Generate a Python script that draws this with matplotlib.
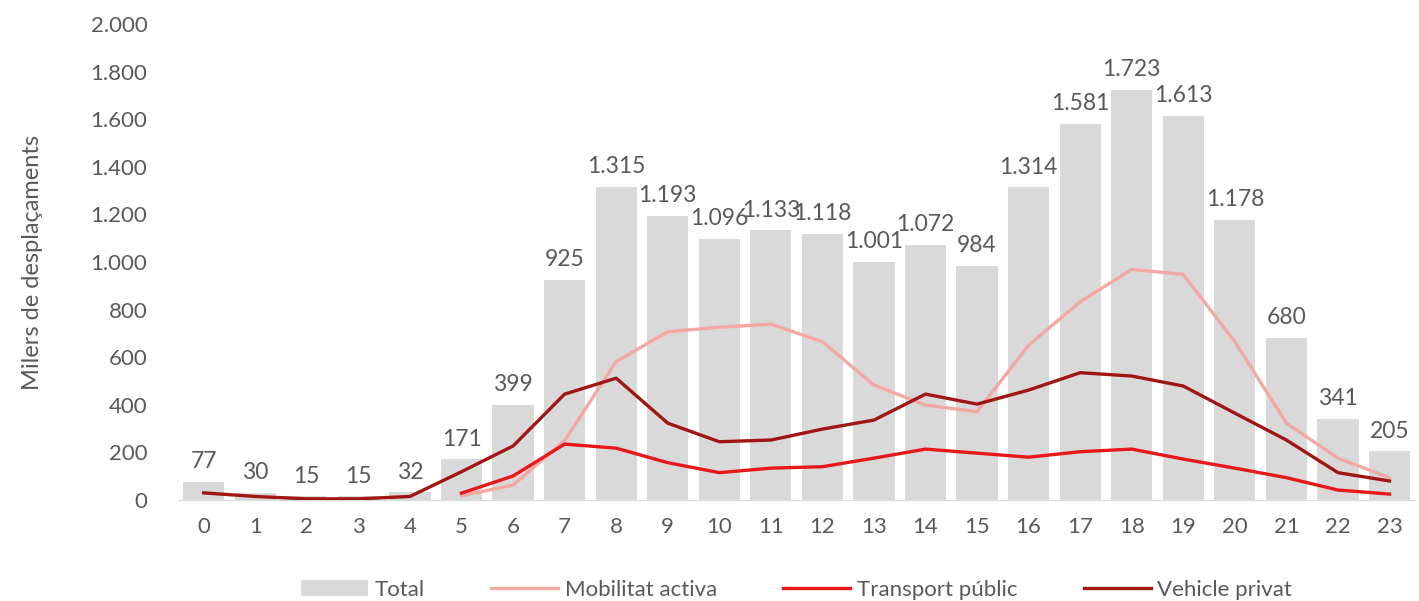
import numpy as np
import matplotlib
matplotlib.use("Agg")
import matplotlib.pyplot as plt

# dades per hora
hores = list(range(24))
total = [77, 30, 15, 15, 32, 171, 399, 925, 1315, 1193, 1096, 1133, 1118, 1001,
         1072, 984, 1314, 1581, 1723, 1613, 1178, 680, 341, 205]
mobilitat = [np.nan] * 5 + [18, 63, 250, 582, 707, 726, 739, 665, 483,
                            399, 371, 651, 833, 969, 948, 665, 323, 176, 94]
transport = [np.nan] * 5 + [29, 101, 235, 218, 157, 115, 134, 140, 176,
                            214, 197, 180, 203, 214, 172, 134, 94, 42, 25]
vehicle = [30, 15, 5, 5, 15, 119, 227, 445, 512, 323, 245, 252, 298, 336,
           445, 403, 462, 535, 521, 479, 365, 252, 115, 80]

gris = '#595959'
plt.rcParams['font.family'] = ['Lato', 'DejaVu Sans']

fig = plt.figure(figsize=(14.19, 6.01), dpi=100)
ax = fig.add_axes([0.1254, 0.168, 0.872, 0.792])

bars = ax.bar(hores, total, width=0.8, color='#d9d9d9', label='Total', zorder=1)
l1, = ax.plot(hores, mobilitat, color='#f4a8a2', lw=2.4, label='Mobilitat activa', zorder=3)
l2, = ax.plot(hores, transport, color='#e8181a', lw=2.4, label='Transport públic', zorder=3)
l3, = ax.plot(hores, vehicle, color='#a01612', lw=2.4, label='Vehicle privat', zorder=4)

def fmt(v):
    return f'{v:,}'.replace(',', '.')

for h, v in zip(hores, total):
    ax.annotate(fmt(v), (h, v), xytext=(0, 7), textcoords='offset points',
                ha='center', va='bottom', fontsize=16.5, color=gris)

ax.set_xlim(-0.5, 23.5)
ax.set_ylim(0, 2000)
ax.set_yticks(range(0, 2001, 200))
ax.set_yticklabels([fmt(v) for v in range(0, 2001, 200)])
ax.set_xticks(hores)
ax.tick_params(axis='both', length=0, labelsize=16, colors=gris)
ax.tick_params(axis='y', pad=22)
ax.tick_params(axis='x', pad=12)
for s in ['top', 'right', 'left']:
    ax.spines[s].set_visible(False)
ax.spines['bottom'].set_color('#d9d9d9')
ax.set_ylabel('Milers de desplaçaments', fontsize=17, color=gris, labelpad=34)

ax.legend([bars, l1, l2, l3], ['Total', 'Mobilitat activa', 'Transport públic', 'Vehicle privat'],
          loc='upper center', bbox_to_anchor=(0.5, -0.125), ncol=4, frameon=False,
          fontsize=16, labelcolor=gris, handlelength=3, columnspacing=3,
          handletextpad=0.3)

fig.savefig('out.png', dpi=100)
